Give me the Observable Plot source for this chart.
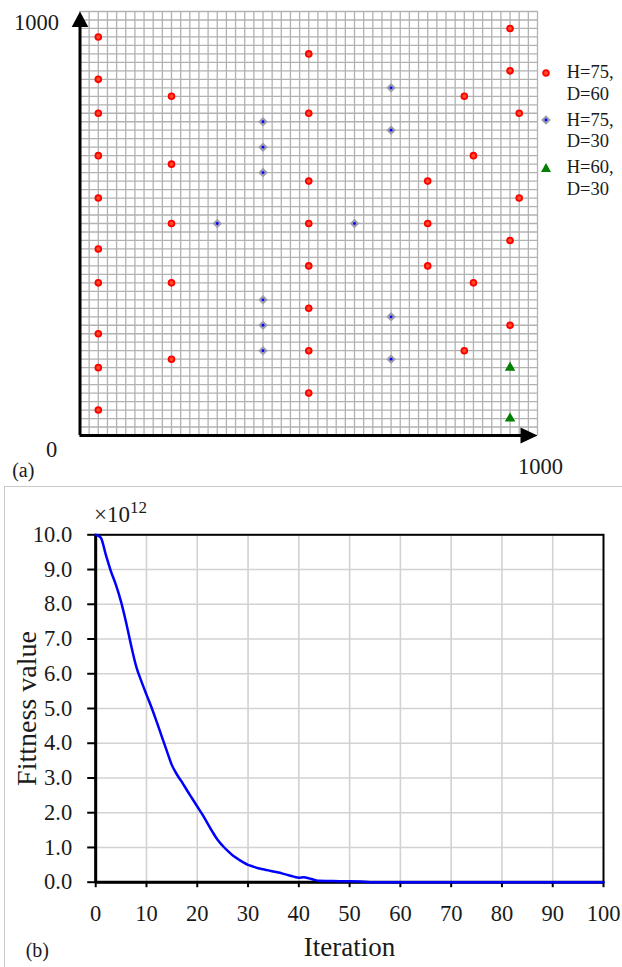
<!DOCTYPE html>
<html>
<head>
<meta charset="utf-8">
<script src="https://cdn.jsdelivr.net/npm/d3@7"></script>
<script src="https://cdn.jsdelivr.net/npm/@observablehq/plot@0.6"></script>
<style>
html,body{margin:0;padding:0;background:#fff;overflow:hidden}
#root{position:relative;width:622px;height:967px;overflow:hidden;font-family:"Liberation Serif","Times New Roman",serif;color:#1a1a1a}
#frameB{position:absolute;left:4px;top:486px;width:700px;height:600px;border:1px solid #c8c8c8}
.leg{position:absolute;left:540px;font-size:18.5px;line-height:21.5px}
.leg .t{position:absolute;left:26.7px;top:0;white-space:nowrap}
.leg svg{position:absolute;left:0;top:4.75px}
#mult{position:absolute;left:94px;top:502px;font-size:23px;line-height:26px;white-space:nowrap}
#mult span{font-size:17px;position:relative;top:-9px}
</style>
</head>
<body>
<div id="root">
  <div id="frameB"></div>
</div>
<script>
// ---------- Panel (a) data ----------
const seriesLabels = [["H=75,", "D=60"], ["H=75,", "D=30"], ["H=60,", "D=30"]];
const redX   = [40,40,40,40,40,40,40,40,40,40, 200,200,200,200,200, 500,500,500,500,500,500,500,500, 760,760,760, 840,840, 860,860, 940,940,940,940, 960,960];
const redY   = [940,840,760,660,560,440,360,240,160,60, 800,640,500,360,180, 900,760,600,500,400,300,200,100, 600,500,400, 800,200, 660,360, 960,860,460,260, 760,560];
const blueX  = [300,400,400,400,400,400,400,600,680,680,680,680];
const blueY  = [500,740,680,620,320,260,200,500,820,720,280,180];
const greenX = [940,940];
const greenY = [160,40];
const axisLabelsA = [0, 1000];
const panelLabels = ["(a)", "(b)"];

// ---------- Panel (b) data ----------
const iterations = [0,1,2,3,4,5,6,7,8,9,10,11,12,13,14,15,16,17,18,19,20,21,22,23,24,25,26,27,28,29,30,31,32,33,34,35,36,37,38,39,40,41,42,43,44,46,48,50,52,54,60,70,80,90,100];
const fitness    = [10.0,9.92,9.42,8.95,8.55,8.07,7.47,6.8,6.2,5.78,5.4,5.03,4.62,4.2,3.78,3.37,3.1,2.88,2.64,2.41,2.18,1.95,1.7,1.45,1.22,1.05,0.9,0.77,0.67,0.58,0.5,0.45,0.4,0.37,0.34,0.31,0.28,0.24,0.2,0.16,0.13,0.14,0.11,0.07,0.04,0.035,0.03,0.03,0.02,0.0,0,0,0,0,0];
const xTicksB = [0,10,20,30,40,50,60,70,80,90,100];
const yTicksB = [0,1,2,3,4,5,6,7,8,9,10];
const xTitleB = "Iteration";
const yTitleB = "Fittness value";

// ---------- build ----------
const pts = (xs, ys) => xs.map((x, i) => ({x, y: ys[i]}));
const red = pts(redX, redY), blue = pts(blueX, blueY), green = pts(greenX, greenY);
const gridVals = d3.range(0, 1001, 20);
const arrowUp = {draw(c){c.moveTo(0,0);c.lineTo(8.3,15.5);c.lineTo(-8.3,15.5);c.closePath();}};
const arrowRight = {draw(c){c.moveTo(0,0);c.lineTo(-17,-8);c.lineTo(-17,8);c.closePath();}};
const FONT = "'Liberation Serif', 'Times New Roman', serif";
const ink = "#1a1a1a";

const plotA = Plot.plot({
  width: 622, height: 480,
  marginLeft: 79.5, marginRight: 85, marginTop: 11, marginBottom: 45,
  x: {domain: [0, 1000], axis: null},
  y: {domain: [0, 1000], axis: null},
  style: {fontFamily: FONT, background: "transparent", overflow: "visible", color: ink},
  marks: [
    Plot.ruleX(gridVals, {stroke: "#b2b2b2", strokeWidth: 1.3}),
    Plot.ruleY(gridVals, {stroke: "#b2b2b2", strokeWidth: 1.3}),
    Plot.ruleX([0], {y1: 0, y2: 970, stroke: "#000", strokeWidth: 3}),
    Plot.ruleY([0], {x1: 0, x2: 970, stroke: "#000", strokeWidth: 3}),
    Plot.dot([{x: 0, y: 1000}], {x: "x", y: "y", symbol: arrowUp, fill: "#000", stroke: "none"}),
    Plot.dot([{x: 1000, y: 0}], {x: "x", y: "y", symbol: arrowRight, fill: "#000", stroke: "none"}),
    Plot.dot(red, {x: "x", y: "y", r: 2.9, fill: "#ff4a2a", stroke: "#ff0000", strokeWidth: 1.8}),
    Plot.dot(blue, {x: "x", y: "y", symbol: "diamond2", r: 4.3, fill: "#9c9cab", stroke: "none"}),
    Plot.dot(blue, {x: "x", y: "y", r: 1.4, fill: "#0000ff", stroke: "none"}),
    Plot.dot(green, {x: "x", y: "y", symbol: "triangle", r: 3.9, fill: "#008000", stroke: "none"}),
    Plot.text([axisLabelsA[1]], {x: 0, y: d => d, text: d => String(d), textAnchor: "end", dx: -21, dy: 11, fontSize: 22.5, fill: ink}),
    Plot.text([axisLabelsA[0]], {x: d => d, y: d => d, text: d => String(d), dx: -28.5, dy: 14, fontSize: 22.5, fill: ink}),
    Plot.text([axisLabelsA[1]], {x: d => d, y: 0, text: d => String(d), dx: 3, dy: 31, fontSize: 22.5, fill: ink}),
    Plot.text([panelLabels[0]], {frameAnchor: "bottom-left", text: d => d, textAnchor: "start", lineAnchor: "middle", dx: -67.8, dy: 35, fontSize: 20, fill: ink})
  ]
});
plotA.style.position = "absolute"; plotA.style.left = "0px"; plotA.style.top = "0px";

const fitData = iterations.map((it, i) => ({iter: it, value: fitness[i]}));
const plotB = Plot.plot({
  width: 622, height: 481,
  marginLeft: 95.2, marginRight: 19, marginTop: 48.3, marginBottom: 85.3,
  x: {domain: [0, 100]},
  y: {domain: [0, 10]},
  style: {fontFamily: FONT, fontSize: "22.5px", background: "transparent", overflow: "visible", color: ink},
  marks: [
    Plot.gridX(xTicksB.slice(1, -1), {stroke: "#d2d2d2", strokeOpacity: 1, strokeWidth: 1.6}),
    Plot.gridY(yTicksB.slice(1, -1), {stroke: "#d2d2d2", strokeOpacity: 1, strokeWidth: 1.6}),
    Plot.frame({stroke: "#000", strokeWidth: 2}),
    Plot.axisX(xTicksB, {tickSize: 5.5, tickPadding: 17, fontSize: 22.5, label: null, tickFormat: d => String(d), stroke: "#000", strokeWidth: 2, fill: ink}),
    Plot.axisY(yTicksB, {tickSize: 8, tickPadding: 15.5, fontSize: 22.5, label: null, tickFormat: d3.format(".1f"), stroke: "#000", strokeWidth: 2, fill: ink}),
    Plot.ruleX([0], {stroke: "#000", strokeWidth: 3}),
    Plot.ruleY([0], {stroke: "#000", strokeWidth: 3}),
    Plot.line(fitData, {x: "iter", y: "value", stroke: "#0000ff", strokeWidth: 2.5, curve: "monotone-x"}),
    Plot.text([yTitleB], {frameAnchor: "left", rotate: -90, textAnchor: "middle", lineAnchor: "middle", dx: -69, fontSize: 28, text: d => d, fill: ink}),
    Plot.text([xTitleB], {frameAnchor: "bottom", textAnchor: "middle", lineAnchor: "middle", dy: 65.5, fontSize: 27, text: d => d, fill: ink}),
    Plot.text([panelLabels[1]], {frameAnchor: "bottom-left", textAnchor: "start", lineAnchor: "middle", dx: -70, dy: 68, fontSize: 20, text: d => d, fill: ink})
  ]
});
plotB.style.position = "absolute"; plotB.style.left = "0px"; plotB.style.top = "486px";

const root = document.getElementById("root");
root.appendChild(plotA);
root.appendChild(plotB);

// multiplier label
const mult = document.createElement("div");
mult.id = "mult";
mult.innerHTML = "×10<span>12</span>";
root.appendChild(mult);

// legend
const symbols = [
  '<svg width="12" height="12" viewBox="-6 -6 12 12"><circle r="2.9" fill="#ff4a2a" stroke="#ff0000" stroke-width="1.8"/></svg>',
  '<svg width="12" height="12" viewBox="-6 -6 12 12"><path d="M0,-4.8L4.8,0L0,4.8L-4.8,0Z" fill="#9c9cab"/><circle r="1.4" fill="#0000ff"/></svg>',
  '<svg width="12" height="12" viewBox="-6 -6 12 12"><path d="M0,-5L5,4L-5,4Z" fill="#008000"/></svg>'
];
seriesLabels.forEach((lines, i) => {
  const d = document.createElement("div");
  d.className = "leg";
  d.style.top = (62 + 47.5 * i) + "px";
  d.innerHTML = symbols[i] + '<div class="t">' + lines.join("<br>") + '</div>';
  root.appendChild(d);
});
</script>
</body>
</html>
